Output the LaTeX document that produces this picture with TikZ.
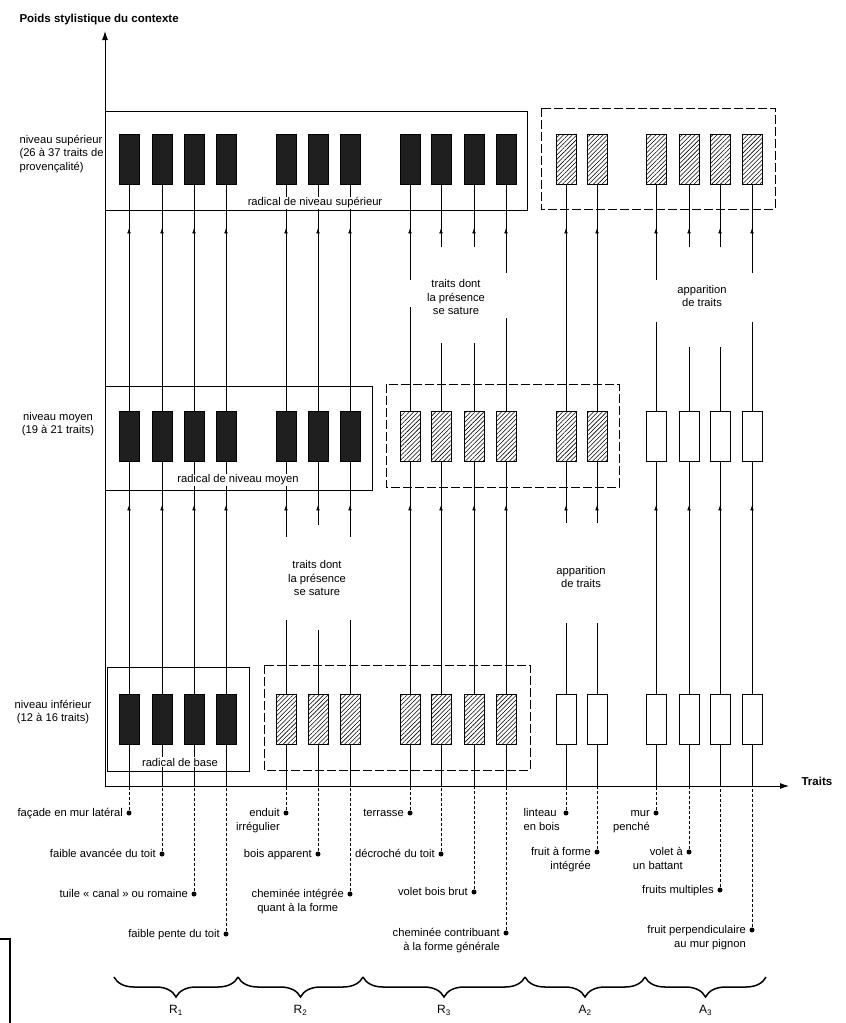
\documentclass[tikz,border=0pt]{standalone}
\usepackage{fontspec}
\setmainfont{Liberation Sans}
\usetikzlibrary{arrows.meta,decorations.markings,decorations.pathreplacing,patterns.meta}

% two lines, the first one on the baseline of the node
\newcommand{\stacklab}[3]{\begin{tabular}[t]{@{}#1@{}}#2\\#3\end{tabular}}

\tikzset{
  feat/.style={draw=black,line width=0.6pt,minimum width=20pt,minimum height=50pt,inner sep=0pt},
  solidfeat/.style={feat,fill=black!88},
  hatchfeat/.style={feat,pattern={Lines[angle=45,distance=3.1pt,line width=0.55pt]}},
  openfeat/.style={feat,fill=white},
  grpframe/.style={line width=1pt},
  dashframe/.style={grpframe,dash pattern=on 9pt off 3pt},
  axis/.style={line width=0.9pt,-{Latex[length=9pt,width=6pt]}},
  link/.style={line width=0.6pt},
  uplink/.style={link,postaction={decorate},
    decoration={markings,mark=at position -44pt with {\arrow{Latex[length=5pt,width=3.6pt]}}}},
  traitdash/.style={line width=0.5pt,dash pattern=on 3pt off 2pt},
  traitdot/.style={circle,fill=black,inner sep=0pt,minimum size=5pt},
  traitlab/.style={anchor=base east,xshift=-6pt,yshift=-3.8pt,inner sep=0pt},
  radlab/.style={fill=white,inner sep=0.8pt},
  note/.style={align=center,inner sep=1pt},
  grp/.style={line width=1.5pt,decorate,decoration={brace,mirror,amplitude=20pt}},
  grplab/.style={anchor=north,yshift=-24pt,font=\fontsize{12}{14}\selectfont}
}

\begin{document}
\begin{tikzpicture}[x=1pt,y=1pt,every node/.style={font=\fontsize{11.2}{13.5}\selectfont}]
\useasboundingbox (0,0) rectangle (846,-1023);

% axes
\coordinate (o) at (105,-786);
\coordinate (ytip) at (105,-31);
\coordinate (xtip) at (789,-786);
\draw[axis] (o) -- (ytip);
\draw[axis] (o) -- (xtip);
\node[anchor=west,font=\fontsize{11.5}{13}\selectfont\bfseries] (ylab) at (16,-20) {Poids stylistique du contexte};
\node[anchor=west,font=\fontsize{11.5}{13}\selectfont\bfseries] (xlab) at (798,-781) {Traits};

% levels
\node[align=left,anchor=west] (lvtop) at (16,-154) {niveau supérieur\\(26 à 37 traits de\\provençalité)};
\node[align=center] (lvmid) at (58,-424) {niveau moyen\\(19 à 21 traits)};
\node[align=center] (lvlow) at (53,-712) {niveau inférieur\\(12 à 16 traits)};

% frames
\draw[grpframe] (105,-111) rectangle (527,-210);
\draw[dashframe] (541,-108) rectangle (775,-209);
\draw[grpframe] (105,-386) rectangle (372,-490);
\draw[dashframe] (386,-384) rectangle (619,-487);
\draw[grpframe] (107,-667) rectangle (249,-771);
\draw[dashframe] (264,-665) rectangle (530,-770);

% niveau inferieur
\node[solidfeat] (l1) at (129,-719) {};
\node[solidfeat] (l2) at (162,-719) {};
\node[solidfeat] (l3) at (194,-719) {};
\node[solidfeat] (l4) at (226,-719) {};
\node[hatchfeat] (l5) at (286,-719) {};
\node[hatchfeat] (l6) at (318,-719) {};
\node[hatchfeat] (l7) at (350,-719) {};
\node[hatchfeat] (l8) at (410,-719) {};
\node[hatchfeat] (l9) at (441,-719) {};
\node[hatchfeat] (l10) at (474,-719) {};
\node[hatchfeat] (l11) at (506,-719) {};
\node[openfeat] (l12) at (566,-719) {};
\node[openfeat] (l13) at (597,-719) {};
\node[openfeat] (l14) at (656,-719) {};
\node[openfeat] (l15) at (689,-719) {};
\node[openfeat] (l16) at (720,-719) {};
\node[openfeat] (l17) at (752,-719) {};

% niveau moyen
\node[solidfeat] (m1) at (129,-436) {};
\node[solidfeat] (m2) at (162,-436) {};
\node[solidfeat] (m3) at (194,-436) {};
\node[solidfeat] (m4) at (226,-436) {};
\node[solidfeat] (m5) at (286,-436) {};
\node[solidfeat] (m6) at (318,-436) {};
\node[solidfeat] (m7) at (350,-436) {};
\node[hatchfeat] (m8) at (410,-436) {};
\node[hatchfeat] (m9) at (441,-436) {};
\node[hatchfeat] (m10) at (474,-436) {};
\node[hatchfeat] (m11) at (506,-436) {};
\node[hatchfeat] (m12) at (566,-436) {};
\node[hatchfeat] (m13) at (597,-436) {};
\node[openfeat] (m14) at (656,-436) {};
\node[openfeat] (m15) at (689,-436) {};
\node[openfeat] (m16) at (720,-436) {};
\node[openfeat] (m17) at (752,-436) {};

% niveau superieur
\node[solidfeat] (t1) at (129,-159) {};
\node[solidfeat] (t2) at (162,-159) {};
\node[solidfeat] (t3) at (194,-159) {};
\node[solidfeat] (t4) at (226,-159) {};
\node[solidfeat] (t5) at (286,-159) {};
\node[solidfeat] (t6) at (318,-159) {};
\node[solidfeat] (t7) at (350,-159) {};
\node[solidfeat] (t8) at (410,-159) {};
\node[solidfeat] (t9) at (441,-159) {};
\node[solidfeat] (t10) at (474,-159) {};
\node[solidfeat] (t11) at (506,-159) {};
\node[hatchfeat] (t12) at (566,-159) {};
\node[hatchfeat] (t13) at (597,-159) {};
\node[hatchfeat] (t14) at (656,-159) {};
\node[hatchfeat] (t15) at (689,-159) {};
\node[hatchfeat] (t16) at (720,-159) {};
\node[hatchfeat] (t17) at (752,-159) {};

% traits
\node[traitdot] (d1) at (129,-813) {};
\node[traitdot] (d2) at (162,-854) {};
\node[traitdot] (d3) at (194,-894) {};
\node[traitdot] (d4) at (226,-934) {};
\node[traitdot] (d5) at (286,-813) {};
\node[traitdot] (d6) at (318,-854) {};
\node[traitdot] (d7) at (350,-894) {};
\node[traitdot] (d8) at (410,-813) {};
\node[traitdot] (d9) at (441,-854) {};
\node[traitdot] (d10) at (474,-892) {};
\node[traitdot] (d11) at (506,-933) {};
\node[traitdot] (d12) at (566,-813) {};
\node[traitdot] (d13) at (597,-852) {};
\node[traitdot] (d14) at (656,-813) {};
\node[traitdot] (d15) at (689,-852) {};
\node[traitdot] (d16) at (720,-890) {};
\node[traitdot] (d17) at (752,-930) {};
\node[traitlab] (n1) at (d1) {façade en mur latéral};
\node[traitlab] (n2) at (d2) {faible avancée du toit};
\node[traitlab] (n3) at (d3) {tuile «~canal~» ou romaine};
\node[traitlab] (n4) at (d4) {faible pente du toit};
\node[traitlab] (n5) at (d5) {\stacklab{r}{enduit}{irrégulier}};
\node[traitlab] (n6) at (d6) {bois apparent};
\node[traitlab] (n7) at (d7) {\stacklab{c}{cheminée intégrée}{quant à la forme}};
\node[traitlab] (n8) at (d8) {terrasse};
\node[traitlab] (n9) at (d9) {décroché du toit};
\node[traitlab] (n10) at (d10) {volet bois brut};
\node[traitlab] (n11) at (d11) {\stacklab{r}{cheminée contribuant}{à la forme générale}};
\node[traitlab] (n12) at (d12) {\stacklab{l}{linteau}{en bois}};
\node[traitlab] (n13) at (d13) {\stacklab{r}{fruit à forme}{intégrée}};
\node[traitlab] (n14) at (d14) {\stacklab{r}{mur}{penché}};
\node[traitlab] (n15) at (d15) {\stacklab{r}{volet à}{un battant}};
\node[traitlab] (n16) at (d16) {fruits multiples};
\node[traitlab] (n17) at (d17) {\stacklab{r}{fruit perpendiculaire}{au mur pignon}};

% from the axis to the lower level
\draw[traitdash] (d1) -- (d1 |- o);  \draw[link] (d1 |- o) -- (l1);
\draw[traitdash] (d2) -- (d2 |- o);  \draw[link] (d2 |- o) -- (l2);
\draw[traitdash] (d3) -- (d3 |- o);  \draw[link] (d3 |- o) -- (l3);
\draw[traitdash] (d4) -- (d4 |- o);  \draw[link] (d4 |- o) -- (l4);
\draw[traitdash] (d5) -- (d5 |- o);  \draw[link] (d5 |- o) -- (l5);
\draw[traitdash] (d6) -- (d6 |- o);  \draw[link] (d6 |- o) -- (l6);
\draw[traitdash] (d7) -- (d7 |- o);  \draw[link] (d7 |- o) -- (l7);
\draw[traitdash] (d8) -- (d8 |- o);  \draw[link] (d8 |- o) -- (l8);
\draw[traitdash] (d9) -- (d9 |- o);  \draw[link] (d9 |- o) -- (l9);
\draw[traitdash] (d10) -- (d10 |- o);  \draw[link] (d10 |- o) -- (l10);
\draw[traitdash] (d11) -- (d11 |- o);  \draw[link] (d11 |- o) -- (l11);
\draw[traitdash] (d12) -- (d12 |- o);  \draw[link] (d12 |- o) -- (l12);
\draw[traitdash] (d13) -- (d13 |- o);  \draw[link] (d13 |- o) -- (l13);
\draw[traitdash] (d14) -- (d14 |- o);  \draw[link] (d14 |- o) -- (l14);
\draw[traitdash] (d15) -- (d15 |- o);  \draw[link] (d15 |- o) -- (l15);
\draw[traitdash] (d16) -- (d16 |- o);  \draw[link] (d16 |- o) -- (l16);
\draw[traitdash] (d17) -- (d17 |- o);  \draw[link] (d17 |- o) -- (l17);

% lower -> middle
\draw[uplink] (l1) -- (m1);
\draw[uplink] (l2) -- (m2);
\draw[uplink] (l3) -- (m3);
\draw[uplink] (l4) -- (m4);
\coordinate (l5e) at (286,-620); \coordinate (m5s) at (286,-537);
\coordinate (l6e) at (318,-630); \coordinate (m6s) at (318,-525);
\coordinate (l7e) at (350,-620); \coordinate (m7s) at (350,-537);
\draw[link] (l5) -- (l5e); \draw[uplink] (m5s) -- (m5);
\draw[link] (l6) -- (l6e); \draw[uplink] (m6s) -- (m6);
\draw[link] (l7) -- (l7e); \draw[uplink] (m7s) -- (m7);
\draw[uplink] (l8) -- (m8);
\draw[uplink] (l9) -- (m9);
\draw[uplink] (l10) -- (m10);
\draw[uplink] (l11) -- (m11);
\coordinate (l12e) at (566,-623); \coordinate (m12s) at (566,-523);
\coordinate (l13e) at (597,-623); \coordinate (m13s) at (597,-523);
\draw[link] (l12) -- (l12e); \draw[uplink] (m12s) -- (m12);
\draw[link] (l13) -- (l13e); \draw[uplink] (m13s) -- (m13);
\draw[uplink] (l14) -- (m14);
\draw[uplink] (l15) -- (m15);
\draw[uplink] (l16) -- (m16);
\draw[uplink] (l17) -- (m17);

% middle -> top
\draw[uplink] (m1) -- (t1);
\draw[uplink] (m2) -- (t2);
\draw[uplink] (m3) -- (t3);
\draw[uplink] (m4) -- (t4);
\draw[uplink] (m5) -- (t5);
\draw[uplink] (m6) -- (t6);
\draw[uplink] (m7) -- (t7);
\coordinate (m8e) at (410,-307); \coordinate (t8s) at (410,-280);
\coordinate (m9e) at (441,-343); \coordinate (t9s) at (441,-247);
\coordinate (m10e) at (474,-343); \coordinate (t10s) at (474,-247);
\coordinate (m11e) at (506,-318); \coordinate (t11s) at (506,-273);
\draw[link] (m8) -- (m8e); \draw[uplink] (t8s) -- (t8);
\draw[link] (m9) -- (m9e); \draw[uplink] (t9s) -- (t9);
\draw[link] (m10) -- (m10e); \draw[uplink] (t10s) -- (t10);
\draw[link] (m11) -- (m11e); \draw[uplink] (t11s) -- (t11);
\draw[uplink] (m12) -- (t12);
\draw[uplink] (m13) -- (t13);
\coordinate (m14e) at (656,-322); \coordinate (t14s) at (656,-280);
\coordinate (m15e) at (689,-347); \coordinate (t15s) at (689,-247);
\coordinate (m16e) at (720,-347); \coordinate (t16s) at (720,-247);
\coordinate (m17e) at (752,-322); \coordinate (t17s) at (752,-273);
\draw[link] (m14) -- (m14e); \draw[uplink] (t14s) -- (t14);
\draw[link] (m15) -- (m15e); \draw[uplink] (t15s) -- (t15);
\draw[link] (m16) -- (m16e); \draw[uplink] (t16s) -- (t16);
\draw[link] (m17) -- (m17e); \draw[uplink] (t17s) -- (t17);

% texts
\node[radlab] (radtop) at (315,-203) {radical de niveau supérieur};
\node[radlab] (radmid) at (238,-480) {radical de niveau moyen};
\node[radlab] (radlow) at (180,-762) {radical de base};
\node[note] (sat1) at (317,-578) {traits dont\\la présence\\se sature};
\node[note] (sat2) at (456,-297) {traits dont\\la présence\\se sature};
\node[note] (app1) at (581,-577) {apparition\\de traits};
\node[note] (app2) at (702,-296) {apparition\\de traits};

% groups
\coordinate (b0) at (114,-977);
\coordinate (b1) at (238,-977);
\coordinate (b2) at (363,-977);
\coordinate (b3) at (525,-977);
\coordinate (b4) at (645,-977);
\coordinate (b5) at (766,-977);
\draw[grp] (b0) -- node[grplab] (gr1) {R\textsubscript{1}} (b1);
\draw[grp] (b1) -- node[grplab] (gr2) {R\textsubscript{2}} (b2);
\draw[grp] (b2) -- node[grplab] (gr3) {R\textsubscript{3}} (b3);
\draw[grp] (b3) -- node[grplab] (ga2) {A\textsubscript{2}} (b4);
\draw[grp] (b4) -- node[grplab] (ga3) {A\textsubscript{3}} (b5);

% edge of the scanned page
\draw[line width=1.6pt] (0,-939) -- (10,-939) -- (10,-1023);
\end{tikzpicture}
\end{document}
